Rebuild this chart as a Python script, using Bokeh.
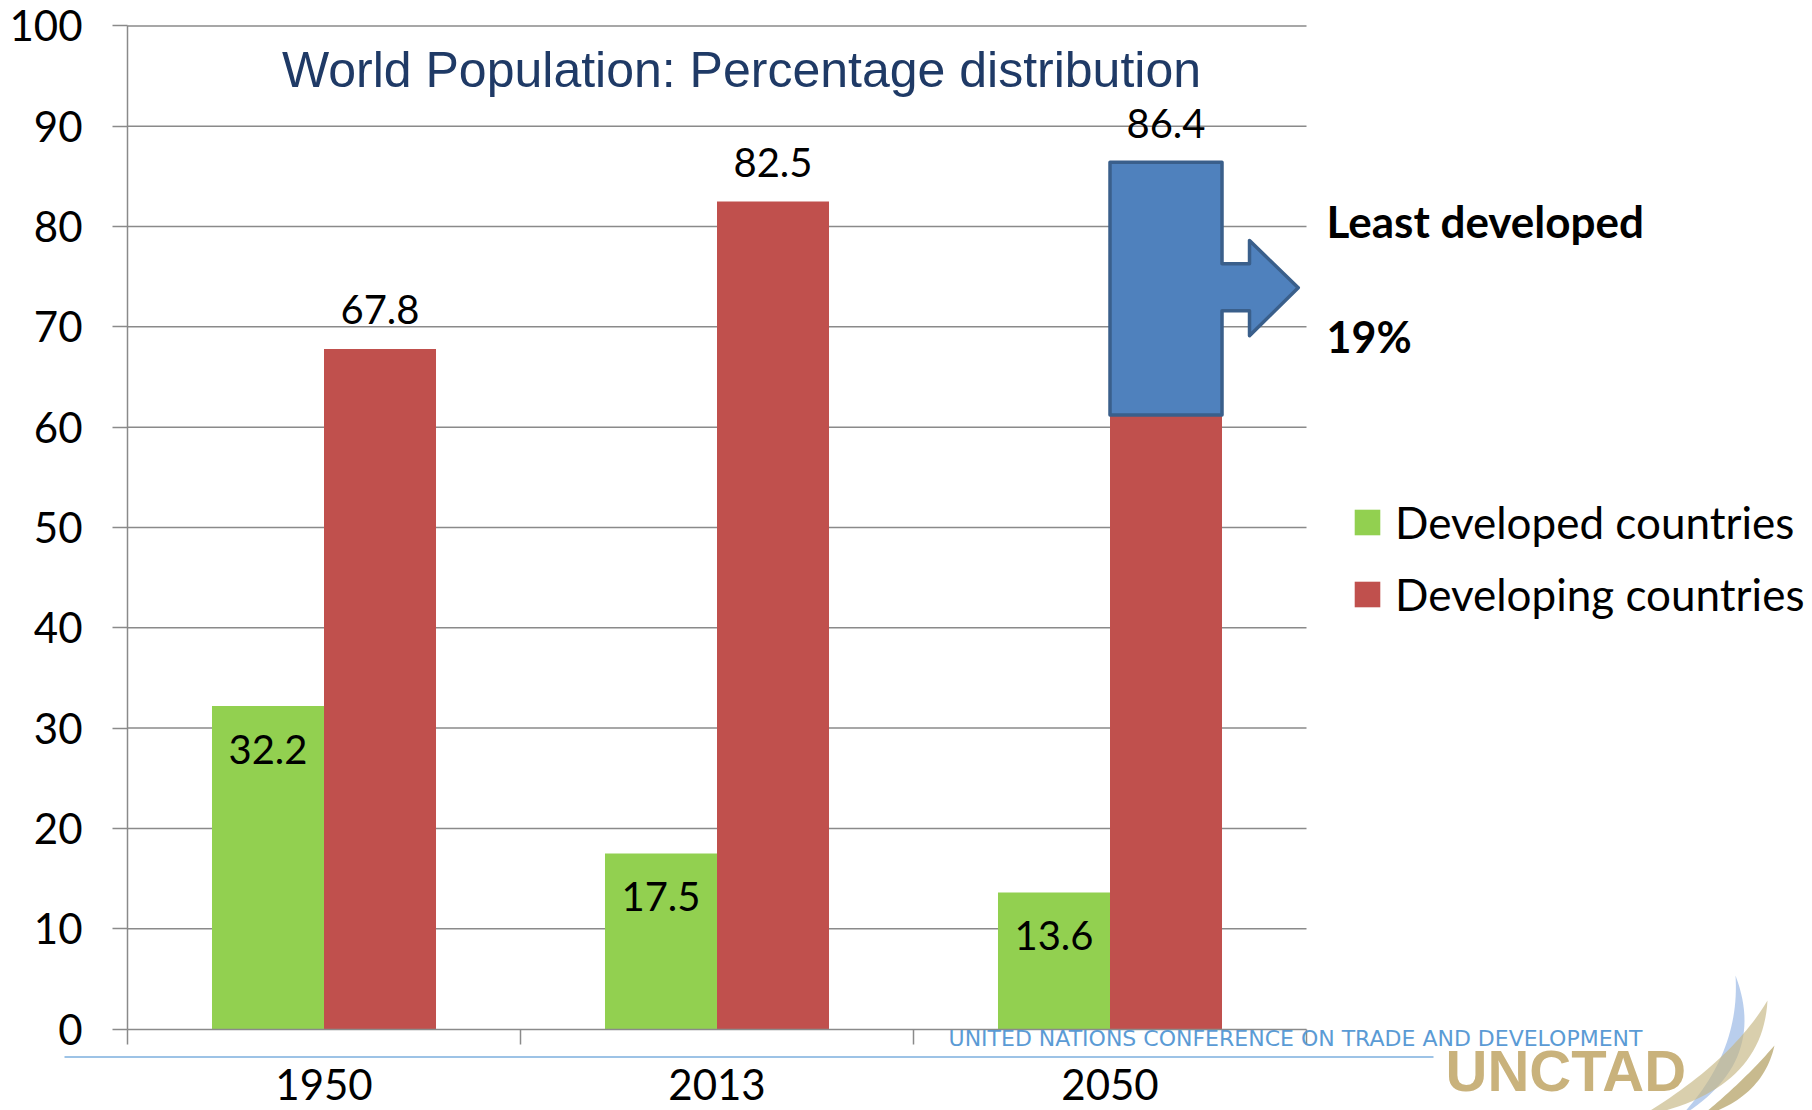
import numpy as np
from bokeh.plotting import figure
from bokeh.models import (Range1d, FixedTicker, Label, LabelSet, ColumnDataSource,
                          Legend, LegendItem, BoxAnnotation, PolyAnnotation, LinearAxis)
from bokeh.embed import file_html
from bokeh.resources import INLINE
from bokeh.core.properties import value

# ---------------- data ----------------
years = ["1950", "2013", "2050"]
developed = [32.2, 17.5, 13.6]
developing = [67.8, 82.5, 86.4]
ldc_bottom_2050 = 61.2          # lower edge of the "least developed" band in the 2050 bar
ldc_label = ["Least developed", "19%"]
series_names = ["Developed countries", "Developing countries"]
y_ticks = list(range(0, 101, 10))

# ---------------- layout / styles ----------------
W, H = 1812, 1110
PLOT_L, PLOT_R = 127.0, 1306.0      # canvas px of x = 0 and x = 3
Y0_PX, Y100_PX = 1028.5, 25.4       # canvas px of y = 0 and y = 100
GREEN = "#92D050"
RED = "#C0504D"
BLUE = "#4F81BD"
BLUE_EDGE = "#3A5F8B"
GRID = "#8A8A8A"
FONT = "Lato"
BAR_W = 0.285
BASE_SHIFT = 0.38   # canvas-label baseline correction (fraction of font size)

ncat = len(years)
xs_px = (PLOT_R - PLOT_L) / ncat
ys_px = (Y0_PX - Y100_PX) / 100.0
x_range = Range1d(-PLOT_L / xs_px, ncat + (W - PLOT_R) / xs_px)
y_range = Range1d(-(H - Y0_PX) / ys_px, 100 + Y100_PX / ys_px)

centers = [i + 0.5 for i in range(ncat)]
x_dev = [c - BAR_W / 2 for c in centers]
x_dvg = [c + BAR_W / 2 for c in centers]

src_dev = ColumnDataSource(dict(x=x_dev, top=developed, lab=[f"{v}" for v in developed]))
src_dvg = ColumnDataSource(dict(x=x_dvg, top=developing, lab=[f"{v}" for v in developing]))

p = figure(width=W, height=H, output_backend="svg", toolbar_location=None,
           x_range=x_range, y_range=y_range, x_axis_location=None, y_axis_location=None,
           min_border=0, min_border_left=0, min_border_right=0,
           min_border_top=0, min_border_bottom=0)
p.outline_line_color = None
p.background_fill_color = "white"
p.border_fill_color = "white"
p.xgrid.visible = False
p.ygrid.visible = False

# horizontal gridlines (limited to the plot area)
grid_y = [t for t in y_ticks if t > 0]
p.segment(x0=[0] * len(grid_y), x1=[ncat] * len(grid_y), y0=grid_y, y1=grid_y,
          line_color=GRID, line_width=1.5)

r_dev = p.vbar(x="x", top="top", width=BAR_W, source=src_dev, fill_color=GREEN, line_color=None)
r_dvg = p.vbar(x="x", top="top", width=BAR_W, source=src_dvg, fill_color=RED, line_color=None)

# least-developed callout (box on the 2050 developing bar with a right arrow)
i50 = ncat - 1
bl = x_dvg[i50] - BAR_W / 2
br = x_dvg[i50] + BAR_W / 2
top50 = developing[i50]
ax_base = br + 0.07
ax_tip = br + 0.194
ys_mid = 73.9
arrow_x = [bl, br, br, ax_base, ax_base, ax_tip, ax_base, ax_base, br, br, bl]
arrow_y = [ldc_bottom_2050, ldc_bottom_2050, ys_mid - 2.3, ys_mid - 2.3, ys_mid - 4.8,
           ys_mid, ys_mid + 4.7, ys_mid + 2.4, ys_mid + 2.4, top50, top50]
p.patch(arrow_x, arrow_y, fill_color=BLUE, line_color=BLUE_EDGE, line_width=3.5,
        line_join="round")

# ---------------- axes ----------------
ya = LinearAxis(fixed_location=0, bounds=(0, 100))
ya.ticker = FixedTicker(ticks=y_ticks)
ya.axis_line_color = GRID
ya.axis_line_width = 1.5
ya.major_tick_line_color = GRID
ya.major_tick_line_width = 1.5
ya.major_tick_out = 15
ya.major_tick_in = 0
ya.minor_tick_line_color = None
ya.major_label_text_font = FONT
ya.major_label_text_font_size = "42px"
ya.major_label_text_color = "black"
ya.major_label_standoff = 30
p.add_layout(ya, "left")

xa = LinearAxis(fixed_location=0, bounds=(0, ncat))
xa.ticker = FixedTicker(ticks=centers, minor_ticks=list(range(ncat + 1)))
xa.major_label_overrides = {c: y for c, y in zip(centers, years)}
xa.axis_line_color = GRID
xa.axis_line_width = 1.5
xa.major_tick_out = 0
xa.major_tick_in = 0
xa.major_tick_line_color = None
xa.minor_tick_out = 15
xa.minor_tick_in = 0
xa.minor_tick_line_color = GRID
xa.minor_tick_line_width = 1.5
xa.major_label_text_font = FONT
xa.major_label_text_font_size = "42px"
xa.major_label_text_color = "black"
xa.major_label_standoff = 25
p.add_layout(xa, "below")

# ---------------- value labels ----------------
p.add_layout(LabelSet(x="x", y="top", text="lab", source=src_dev, y_offset=-43,
                      text_align="center", text_baseline="middle",
                      text_font=value(FONT), text_font_size=value("40px"), text_color="black"))
p.add_layout(LabelSet(x="x", y="top", text="lab", source=src_dvg, y_offset=39,
                      text_align="center", text_baseline="middle",
                      text_font=value(FONT), text_font_size=value("40px"), text_color="black"))


def canvas_label(x, baseline, text, font, size, **kw):
    """Label placed by the canvas position of its text baseline."""
    return Label(x=x, y=baseline - BASE_SHIFT * size, x_units="canvas", y_units="canvas",
                 text=text, text_baseline="alphabetic", text_font=font,
                 text_font_size=f"{size}px", **kw)


# ---------------- title ----------------
p.add_layout(canvas_label(741, 88, "World Population: Percentage distribution",
                          "Liberation Sans", 50, text_align="center", text_color="#1F3A66"))

# ---------------- callout texts ----------------
p.add_layout(canvas_label(1326, 237, ldc_label[0], FONT, 44,
                          text_font_style="bold", text_color="black"))
p.add_layout(canvas_label(1326, 352, ldc_label[1], FONT, 43,
                          text_font_style="bold", text_color="black"))

# ---------------- legend ----------------
legend = Legend(items=[LegendItem(label=series_names[0], renderers=[r_dev]),
                       LegendItem(label=series_names[1], renderers=[r_dvg])],
                location=(1351, 490), orientation="vertical",
                glyph_width=32, glyph_height=32, label_standoff=12, spacing=20,
                padding=0, margin=0, border_line_color=None, background_fill_alpha=0,
                label_text_font=FONT, label_text_font_size="44px", label_text_color="black")
p.add_layout(legend, "center")

# ---------------- UNCTAD footer decoration ----------------
p.add_layout(BoxAnnotation(left=64, right=1433, top=1055.5, bottom=1057.5,
                           left_units="canvas", right_units="canvas",
                           top_units="canvas", bottom_units="canvas",
                           fill_color="#9DC3E6", fill_alpha=1, line_color=None))
p.add_layout(canvas_label(1295, 1046, "UNITED NATIONS CONFERENCE ON TRADE AND DEVELOPMENT",
                          "DejaVu Sans", 22, text_align="center", text_color="#5B9BD5"))
p.add_layout(canvas_label(1445, 1092, "UNCTAD", "Liberation Sans", 58,
                          text_font_style="bold", text_color="#C9B27C"))


def crescent(p0, p2, c_out, c_in, n=30):
    t = np.linspace(0, 1, n)

    def q(c):
        x = (1 - t) ** 2 * p0[0] + 2 * (1 - t) * t * c[0] + t ** 2 * p2[0]
        y = (1 - t) ** 2 * p0[1] + 2 * (1 - t) * t * c[1] + t ** 2 * p2[1]
        return x, y
    xo, yo = q(c_out)
    xi, yi = q(c_in)
    return list(xo) + list(xi[::-1]), list(yo) + list(yi[::-1])


for (p0, p2, co, ci, col, al) in [
    ((1735, 975), (1680, 1116), (1768, 1062), (1740, 1052), "#A7C2E8", 0.8),
    ((1767, 1000), (1640, 1116), (1762, 1092), (1730, 1062), "#C5B681", 0.65),
    ((1774, 1045), (1700, 1116), (1762, 1098), (1742, 1082), "#B09C5E", 0.7),
]:
    xs, ys = crescent(p0, p2, co, ci)
    p.add_layout(PolyAnnotation(xs=xs, ys=ys, xs_units="canvas", ys_units="canvas",
                                fill_color=col, fill_alpha=al, line_color=None))

open("out.html", "w").write(file_html(p, INLINE))
